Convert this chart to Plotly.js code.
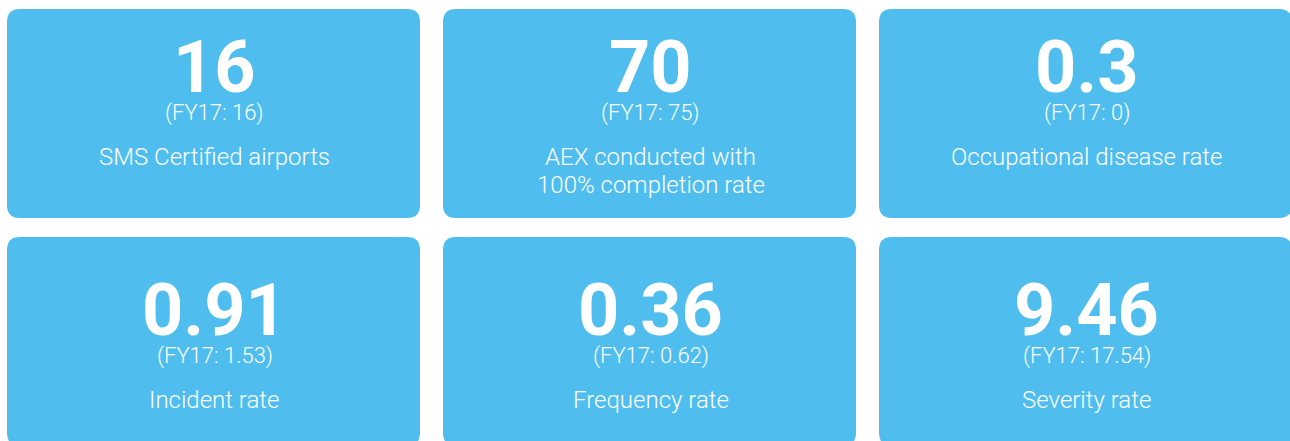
<!DOCTYPE html>
<html>
<head>
<meta charset="utf-8">
<script src="https://cdn.plot.ly/plotly-3.0.1.min.js"></script>
<style>
html,body{margin:0;padding:0;background:#fff;overflow:hidden;}
#chart{width:1290px;height:441px;}
</style>
</head>
<body>
<div id="chart"></div>
<script>
// KPI data
const values = ["16", "70", "0.3", "0.91", "0.36", "9.46"];
const priorValues = ["16", "75", "0", "1.53", "0.62", "17.54"];
const labels = ["SMS Certified airports", "AEX conducted with<br>100% completion rate", "Occupational disease rate",
                "Incident rate", "Frequency rate", "Severity rate"];

const W = 1290, H = 441;
const colX = [7, 443, 879];
const rowY = [9, 237];
const tileW = 413, tileH = 209, r = 13;
const textOffset = [0, 15]; // extra vertical offset per row
const tileColor = "#4FBEEE";
const font = "Roboto, 'Noto Sans', sans-serif";

function roundRect(x, y, w, h, rad) {
  return `M${x + rad},${y} L${x + w - rad},${y} Q${x + w},${y} ${x + w},${y + rad} ` +
         `L${x + w},${y + h - rad} Q${x + w},${y + h} ${x + w - rad},${y + h} ` +
         `L${x + rad},${y + h} Q${x},${y + h} ${x},${y + h - rad} ` +
         `L${x},${y + rad} Q${x},${y} ${x + rad},${y} Z`;
}

const shapes = [];
const annotations = [];
values.forEach((v, i) => {
  const c = i % 3, rw = Math.floor(i / 3);
  const x0 = colX[c], y0 = rowY[rw];
  shapes.push({type: "path", xref: "x", yref: "y", path: roundRect(x0, y0, tileW, tileH, r),
               fillcolor: tileColor, line: {width: 0}, layer: "below"});
  const cx = x0 + tileW / 2 + 1;
  const oy = y0 + textOffset[rw];
  annotations.push({x: cx, y: oy + 58, xref: "x", yref: "y", text: "<b>" + v + "</b>", showarrow: false,
                    xanchor: "center", yanchor: "middle", font: {family: font, size: 72, color: "#ffffff"}});
  annotations.push({x: cx, y: oy + 104, xref: "x", yref: "y", text: "(FY17: " + priorValues[i] + ")", showarrow: false,
                    xanchor: "center", yanchor: "middle", font: {family: font, size: 22, weight: 300, color: "#ffffff"}});
  labels[i].split("<br>").forEach((line, k) => {
    annotations.push({x: cx, y: oy + 148 + k * 28, xref: "x", yref: "y", text: line, showarrow: false,
                      xanchor: "center", yanchor: "middle",
                      font: {family: font, size: 24, weight: 300, color: "#ffffff"}});
  });
});

const layout = {
  width: W, height: H,
  margin: {l: 0, r: 0, t: 0, b: 0},
  paper_bgcolor: "#ffffff", plot_bgcolor: "#ffffff",
  xaxis: {range: [0, W], visible: false, fixedrange: true},
  yaxis: {range: [H, 0], visible: false, fixedrange: true},
  shapes: shapes,
  annotations: annotations,
  showlegend: false
};

Plotly.newPlot("chart", [], layout, {displayModeBar: false, staticPlot: true});
</script>
</body>
</html>
